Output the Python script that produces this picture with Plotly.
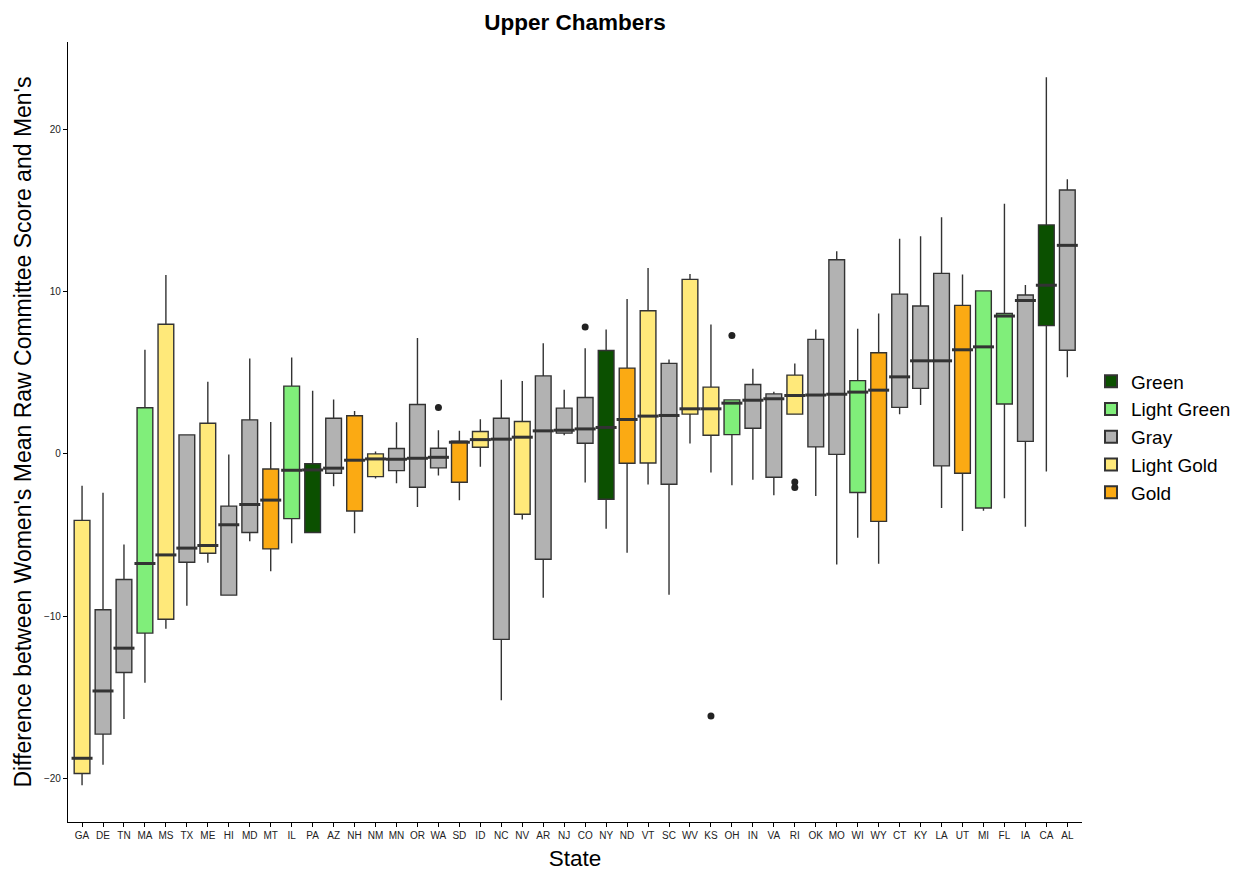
import plotly.graph_objects as go

states = ["GA","DE","TN","MA","MS","TX","ME","HI","MD","MT","IL","PA","AZ","NH","NM","MN",
          "OR","WA","SD","ID","NC","NV","AR","NJ","CO","NY","ND","VT","SC","WV","KS","OH",
          "IN","VA","RI","OK","MO","WI","WY","CT","KY","LA","UT","MI","FL","IA","CA","AL"]
groups = ["Light Gold","Gray","Gray","Light Green","Light Gold","Gray","Light Gold","Gray","Gray","Gold",
          "Light Green","Green","Gray","Gold","Light Gold","Gray","Gray","Gray","Gold","Light Gold",
          "Gray","Light Gold","Gray","Gray","Gray","Green","Gold","Light Gold","Gray","Light Gold",
          "Light Gold","Light Green","Gray","Gray","Light Gold","Gray","Gray","Light Green","Gold","Gray",
          "Gray","Gray","Gold","Light Green","Light Green","Gray","Green","Gray"]
lower = [-20.43,-19.17,-16.35,-14.11,-10.79,-9.37,-6.71,-8.71,-5.38,-7.24,-5.51,-4.85,-2.0,-4.90,-1.52,-1.81,
         -3.27,-1.34,-2.86,-0.80,-15.19,-4.05,-8.87,1.15,-1.77,-4.61,-6.09,-1.89,-8.68,0.64,-1.15,-1.93,
         -1.60,-2.55,2.45,-2.59,-6.82,-5.17,-6.77,2.44,3.01,-3.34,-4.76,-3.50,-2.73,-4.49,-1.08,4.72]
q1 = [-19.71,-17.28,-13.48,-11.05,-10.20,-6.68,-6.13,-8.71,-4.85,-5.86,-3.99,-4.85,-1.19,-3.52,-1.40,-1.03,
      -2.06,-0.86,-1.75,0.41,-11.44,-3.72,-6.50,1.28,0.66,-2.80,-0.58,-0.56,-1.87,2.45,1.15,1.19,
      1.58,-1.44,2.45,0.43,-0.03,-2.38,-4.16,2.87,4.04,-0.74,-1.19,-3.34,3.08,0.77,7.91,6.39]
median = [-18.77,-14.62,-11.98,-6.76,-6.23,-5.81,-5.65,-4.37,-3.12,-2.85,-1.01,-0.99,-0.88,-0.39,-0.31,-0.33,
          -0.27,-0.21,0.72,0.88,0.91,1.03,1.42,1.46,1.54,1.63,2.12,2.33,2.37,2.78,2.78,3.13,
          3.31,3.40,3.60,3.63,3.68,3.81,3.93,4.75,5.74,5.74,6.42,6.60,8.50,9.46,10.40,12.86]
q3 = [-4.10,-9.61,-7.75,2.85,7.99,1.17,1.89,-3.22,2.10,-0.93,4.18,-0.61,2.20,2.35,0.0,0.33,
      3.05,0.35,0.78,1.38,2.20,2.00,4.81,2.82,3.48,6.38,5.29,8.83,5.58,10.76,4.12,3.33,
      4.28,3.70,4.86,7.06,11.97,4.52,6.24,9.85,9.12,11.13,9.16,10.05,8.66,9.80,14.12,16.27]
upper = [-1.97,-2.40,-5.59,6.42,11.03,1.17,4.45,-0.03,5.89,1.97,5.94,3.89,3.35,2.65,0.14,1.95,
         7.14,1.46,1.42,2.14,4.57,4.49,6.83,3.95,6.52,7.67,9.55,11.46,5.82,11.09,7.98,3.33,
         5.25,3.83,5.58,7.67,12.50,7.72,8.66,13.26,13.42,14.60,11.06,10.05,15.42,10.42,23.22,16.94]
outlier_states = ["WA","CO","KS","OH","RI","RI"]
outlier_values = [2.86,7.82,-16.17,7.30,-1.74,-2.08]

group_order = ["Green","Light Green","Gray","Light Gold","Gold"]
group_colors = {"Green":"#0B5000","Light Green":"#80EE7A","Gray":"#B2B2B2",
                "Light Gold":"#FFE97A","Gold":"#FBAA13"}

fig = go.Figure()
for g in group_order:
    idx = [i for i, gg in enumerate(groups) if gg == g]
    fig.add_trace(go.Box(
        name=g, legendgroup=g,
        x=[states[i] for i in idx],
        q1=[q1[i] for i in idx], median=[median[i] for i in idx], q3=[q3[i] for i in idx],
        lowerfence=[lower[i] for i in idx], upperfence=[upper[i] for i in idx],
        fillcolor=group_colors[g], line=dict(color="#333333", width=1.4),
        whiskerwidth=0, width=0.75, boxpoints=False, hoverinfo="skip",
    ))

# thicker median bars
fig.add_trace(go.Scatter(
    x=states, y=median, mode="markers", showlegend=False, hoverinfo="skip",
    marker=dict(symbol="line-ew-open", size=15, color="#333333",
                line=dict(color="#333333", width=3)),
))
# outliers
fig.add_trace(go.Scatter(
    x=outlier_states, y=outlier_values, mode="markers", showlegend=False, hoverinfo="skip",
    marker=dict(symbol="circle", size=7, color="#222222"),
))

fig.update_layout(
    width=1233, height=871,
    boxmode="overlay",
    paper_bgcolor="white", plot_bgcolor="white",
    margin=dict(l=68, r=151, t=42, b=49),
    font=dict(family="Liberation Sans, Arial, sans-serif", color="black"),
    title=dict(text="<b>Upper Chambers</b>", x=0.5, xref="paper", xanchor="center",
               y=1 - 14/871, yref="container", yanchor="top",
               font=dict(size=22.5, color="black")),
    showlegend=True,
    legend=dict(xref="container", yref="container", x=1091/1233, y=1 - 437/871,
                xanchor="left", yanchor="middle", font=dict(size=19),
                tracegroupgap=0, itemsizing="constant", bgcolor="rgba(0,0,0,0)"),
    xaxis=dict(type="category", categoryorder="array", categoryarray=states,
               range=[-0.67, 47.7], showline=True, linecolor="black", linewidth=1.2,
               ticks="outside", ticklen=4, tickcolor="black", showgrid=False, zeroline=False,
               automargin=False,
               tickfont=dict(size=10, color="#222222"),
               title=dict(text="State", font=dict(size=22.5), standoff=15)),
    yaxis=dict(range=[-22.7, 25.4], tickvals=[-20, -10, 0, 10, 20],
               showline=True, linecolor="black", linewidth=1.2,
               ticks="outside", ticklen=4, tickcolor="black", showgrid=False, zeroline=False,
               automargin=False,
               tickfont=dict(size=10, color="#222222"),
               title=dict(text="Difference between Women's Mean Raw Committee Score and Men's",
                          font=dict(size=23), standoff=5)),
)

fig.write_html("out.html", config={"displayModeBar": False},
               post_script="document.body.style.margin='0px';document.body.style.overflow='hidden';")
